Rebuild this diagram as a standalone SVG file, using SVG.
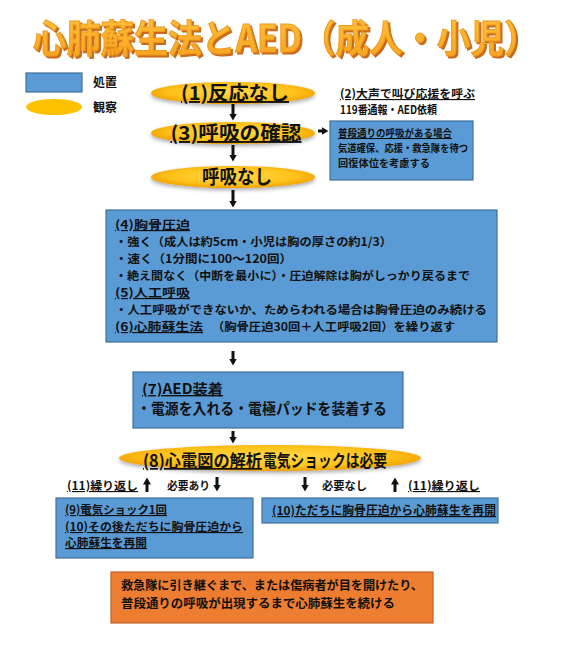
<svg xmlns="http://www.w3.org/2000/svg" width="570" height="650" viewBox="0 0 570 650">
<defs>
<style>
.t{font-family:"Noto Sans CJK JP","Noto Sans",sans-serif;fill:#111;font-weight:bold;}
.u{text-decoration:underline;}
.box{fill:#5B9BD5;stroke:#41719C;stroke-width:1.2;}
.obs{fill:url(#eg);filter:url(#glow);}
.con line{stroke:#111;stroke-width:3;marker-end:url(#ah);}
</style>
<radialGradient id="eg" cx="50%" cy="45%" r="55%">
<stop offset="0" stop-color="#FFD84A"/>
<stop offset="0.7" stop-color="#FFC21A"/>
<stop offset="1" stop-color="#F0A000"/>
</radialGradient>
<linearGradient id="tg" x1="0" y1="0" x2="0" y2="1">
<stop offset="0" stop-color="#FFC53D"/>
<stop offset="1" stop-color="#F7A11E"/>
</linearGradient>
<filter id="glow" x="-20%" y="-50%" width="140%" height="200%">
<feGaussianBlur in="SourceAlpha" stdDeviation="2"/>
<feOffset dx="0" dy="1.5" result="o"/>
<feComponentTransfer><feFuncA type="linear" slope="0.35"/></feComponentTransfer>
<feMerge><feMergeNode/><feMergeNode in="SourceGraphic"/></feMerge>
</filter>
<filter id="tsh" x="-10%" y="-60%" width="120%" height="220%">
<feFlood flood-color="#C8691A"/>
<feComposite in2="SourceAlpha" operator="in"/>
<feOffset dx="1.8" dy="1.8"/>
<feMerge><feMergeNode/><feMergeNode in="SourceGraphic"/></feMerge>
</filter>
<marker id="ah" markerUnits="userSpaceOnUse" markerWidth="7" markerHeight="8" viewBox="0 0 7 8" refX="0.5" refY="4" orient="auto">
<path d="M0,0 L7,4 L0,8 z" fill="#111"/>
</marker>
</defs>
<rect width="570" height="650" fill="#fff"/>

<g id="title" filter="url(#tsh)">
<text transform="translate(33,52) scale(1,1.14)" x="0" y="0" class="t" font-size="33" textLength="505" lengthAdjust="spacingAndGlyphs" style="fill:url(#tg);stroke:#EE9A1E;stroke-width:0.9">心肺蘇生法とAED（成人・小児）</text>
</g>

<g id="legend">
<rect x="26" y="73" width="56" height="19" class="box"/>
<text x="93" y="87" class="t" font-size="12">処置</text>
<ellipse cx="54" cy="107" rx="28" ry="8" fill="#FFC000"/>
<text x="93" y="112" class="t" font-size="12">観察</text>
</g>

<g id="n1">
<ellipse cx="233" cy="93" rx="82" ry="11" class="obs"/>
<text x="235" y="100" text-anchor="middle" class="t u" font-size="19" textLength="108" lengthAdjust="spacingAndGlyphs">(1)反応なし</text>
</g>

<g id="n2">
<text x="340" y="98" class="t u" font-size="11.5" textLength="135" lengthAdjust="spacingAndGlyphs">(2)大声で叫び応援を呼ぶ</text>
<text x="340" y="114" class="t" font-size="11.5" textLength="97" lengthAdjust="spacingAndGlyphs">119番通報・AED依頼</text>
</g>

<g id="n3">
<ellipse cx="233" cy="133" rx="82" ry="11" class="obs"/>
<text x="236" y="140" text-anchor="middle" class="t u" font-size="19" textLength="131" lengthAdjust="spacingAndGlyphs">(3)呼吸の確認</text>
</g>

<g id="n3b">
<rect x="330" y="121" width="143" height="59" class="box"/>
<text x="338" y="137" class="t u" font-size="10.5" textLength="114" lengthAdjust="spacingAndGlyphs">普段通りの呼吸がある場合</text>
<text x="338" y="152" class="t" font-size="10.5" textLength="130" lengthAdjust="spacingAndGlyphs">気道確保、応援・救急隊を待つ</text>
<text x="338" y="167" class="t" font-size="10.5" textLength="92" lengthAdjust="spacingAndGlyphs">回復体位を考慮する</text>
</g>

<g id="n_nobreath">
<ellipse cx="233" cy="177" rx="82" ry="11" class="obs"/>
<text x="237" y="184" text-anchor="middle" class="t" font-size="19" textLength="70" lengthAdjust="spacingAndGlyphs">呼吸なし</text>
</g>

<g id="n4">
<rect x="106" y="210" width="391" height="132" class="box"/>
<text x="115" y="229" class="t u" font-size="11.7" textLength="75" lengthAdjust="spacingAndGlyphs">(4)胸骨圧迫</text>
<text x="115" y="246" class="t" font-size="11.7" textLength="277" lengthAdjust="spacingAndGlyphs">・強く（成人は約5cm・小児は胸の厚さの約1/3）</text>
<text x="115" y="263" class="t" font-size="11.7" textLength="177" lengthAdjust="spacingAndGlyphs">・速く（1分間に100〜120回）</text>
<text x="115" y="280" class="t" font-size="11.7" textLength="355" lengthAdjust="spacingAndGlyphs">・絶え間なく（中断を最小に）・圧迫解除は胸がしっかり戻るまで</text>
<text x="115" y="297" class="t u" font-size="11.7" textLength="75" lengthAdjust="spacingAndGlyphs">(5)人工呼吸</text>
<text x="115" y="314" class="t" font-size="11.7" textLength="372" lengthAdjust="spacingAndGlyphs">・人工呼吸ができないか、ためらわれる場合は胸骨圧迫のみ続ける</text>
<text x="115" y="331" class="t u" font-size="11.7" textLength="88" lengthAdjust="spacingAndGlyphs">(6)心肺蘇生法</text>
<text x="212" y="331" class="t" font-size="11.7" textLength="243" lengthAdjust="spacingAndGlyphs">（胸骨圧迫30回＋人工呼吸2回）を繰り返す</text>
</g>

<g id="n7">
<rect x="133" y="372" width="270" height="56" class="box"/>
<text x="142" y="394" class="t u" font-size="14" textLength="81" lengthAdjust="spacingAndGlyphs">(7)AED装着</text>
<text x="137" y="414" class="t" font-size="15" textLength="250" lengthAdjust="spacingAndGlyphs">・電源を入れる・電極パッドを装着する</text>
</g>

<g id="n8">
<ellipse cx="270" cy="458" rx="151" ry="13" class="obs"/>
<text x="143" y="467" class="t u" font-size="17" textLength="119" lengthAdjust="spacingAndGlyphs">(8)心電図の解析</text>
<text x="263" y="467" class="t" font-size="17" textLength="124" lengthAdjust="spacingAndGlyphs">電気ショックは必要</text>
</g>

<g id="labels">
<text x="67" y="490" class="t u" font-size="11.5" textLength="71" lengthAdjust="spacingAndGlyphs">(11)繰り返し</text>
<text x="167" y="490" class="t" font-size="11.5" textLength="43" lengthAdjust="spacingAndGlyphs">必要あり</text>
<text x="322" y="490" class="t" font-size="11.5" textLength="45" lengthAdjust="spacingAndGlyphs">必要なし</text>
<text x="408" y="490" class="t u" font-size="11.5" textLength="72" lengthAdjust="spacingAndGlyphs">(11)繰り返し</text>
</g>

<g id="n9">
<rect x="56" y="498" width="197" height="60" class="box"/>
<text x="65" y="514" class="t u" font-size="11.5" textLength="102" lengthAdjust="spacingAndGlyphs">(9)電気ショック1回</text>
<text x="65" y="531" class="t u" font-size="11.5" textLength="178" lengthAdjust="spacingAndGlyphs">(10)その後ただちに胸骨圧迫から</text>
<text x="65" y="547" class="t u" font-size="11.5" textLength="82" lengthAdjust="spacingAndGlyphs">心肺蘇生を再開</text>
</g>

<g id="n10">
<rect x="262" y="498" width="236" height="25" class="box"/>
<text x="272" y="515" class="t u" font-size="12" textLength="224" lengthAdjust="spacingAndGlyphs">(10)ただちに胸骨圧迫から心肺蘇生を再開</text>
</g>

<g id="nend">
<rect x="111" y="572" width="322" height="51" fill="#ED7D31" stroke="#C0622A" stroke-width="1.2"/>
<text x="121" y="590" class="t" font-size="12.3" textLength="302" lengthAdjust="spacingAndGlyphs">救急隊に引き継ぐまで、または傷病者が目を開けたり、</text>
<text x="121" y="608" class="t" font-size="12.3" textLength="274" lengthAdjust="spacingAndGlyphs">普段通りの呼吸が出現するまで心肺蘇生を続ける</text>
</g>

<g id="connectors" class="con">
<line x1="233" y1="104" x2="233" y2="114"/>
<line x1="233" y1="145" x2="233" y2="155"/>
<line x1="318" y1="131" x2="322" y2="131"/>
<line x1="233" y1="190" x2="233" y2="201"/>
<line x1="233" y1="351" x2="233" y2="359"/>
<line x1="233" y1="431" x2="233" y2="437"/>
<line x1="147" y1="492" x2="147" y2="484"/>
<line x1="217" y1="477" x2="217" y2="485"/>
<line x1="305" y1="477" x2="305" y2="485"/>
<line x1="395" y1="492" x2="395" y2="484"/>
</g>
</svg>
